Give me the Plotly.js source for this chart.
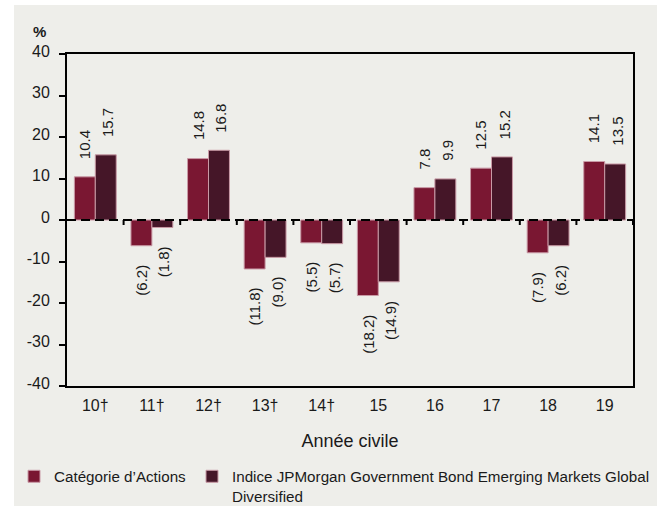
<!DOCTYPE html>
<html>
<head>
<meta charset="utf-8">
<script src="https://cdn.plot.ly/plotly-3.0.1.min.js"></script>
<style>
html,body{margin:0;padding:0;background:#ffffff;}
#chart{position:absolute;left:14px;top:5px;width:643px;height:501px;}
</style>
</head>
<body>
<div id="chart"></div>
<script>
// Data
const categories = ['10†','11†','12†','13†','14†','15','16','17','18','19'];
const seriesNames = ["Catégorie d’Actions", "Indice JPMorgan Government Bond Emerging Markets Global<br>Diversified"];
const fundReturns = [10.4, -6.2, 14.8, -11.8, -5.5, -18.2, 7.8, 12.5, -7.9, 14.1];
const indexReturns = [15.7, -1.8, 16.8, -9.0, -5.7, -14.9, 9.9, 15.2, -6.2, 13.5];
const yTicks = [-40, -30, -20, -10, 0, 10, 20, 30, 40];

const FONT = '"Liberation Sans", Arial, sans-serif';
const TXT = '#1a1a1a';
const colors = ['#7a1732', '#451628'];
const W = 643, H = 501;
const margin = {l: 53, r: 24, t: 49, b: 120};
const bargap = 0.26;

const series = [fundReturns, indexReturns];
const traces = series.map((vals, s) => ({
  type: 'bar',
  x: categories,
  y: vals,
  name: seriesNames[s],
  legend: s === 0 ? 'legend' : 'legend2',
  marker: {color: colors[s], line: {color: '#c99aa6', width: 1}},
  hoverinfo: 'skip'
}));

const plotW = W - margin.l - margin.r;
const catPx = plotW / categories.length;
const barPx = catPx * (1 - bargap) / 2;

const fmt = v => v < 0 ? '(' + Math.abs(v).toFixed(1) + ')' : v.toFixed(1);

const annotations = [];
series.forEach((vals, s) => {
  vals.forEach((v, i) => {
    annotations.push({
      x: i, y: v, xref: 'x', yref: 'y',   // x = category index on the category axis
      text: fmt(v), showarrow: false, textangle: -90,
      xanchor: 'center', yanchor: v < 0 ? 'top' : 'bottom',
      xshift: (s === 0 ? -1 : 1) * barPx / 2 + (s === 0 ? 0 : 2),
      yshift: v < 0 ? -17 : 16,
      font: {family: FONT, size: 15, color: TXT}
    });
  });
});
annotations.push({
  xref: 'paper', yref: 'paper', x: 0, y: 1, xanchor: 'right', yanchor: 'bottom',
  xshift: -19, yshift: 12, text: '<b>%</b>', showarrow: false,
  font: {family: FONT, size: 15, color: TXT}
});

const shapes = [{
  type: 'line', xref: 'paper', yref: 'y', x0: 0, x1: 1, y0: 0, y1: 0,
  line: {color: '#000', width: 2, dash: '9px,5px'}
}];
categories.forEach((c, i) => {
  const xb = (i + 1) / categories.length; // category boundary in paper fraction
  shapes.push({
    type: 'line', xref: 'paper', yref: 'y', ysizemode: 'pixel', yanchor: 0,
    x0: xb, x1: xb, y0: 0, y1: -5,
    line: {color: '#000', width: 2}
  });
});

const legendCommon = {
  orientation: 'h', xref: 'paper', yref: 'container',
  y: 0.092, yanchor: 'top', xanchor: 'left',
  valign: 'top', font: {family: FONT, size: 15.2, color: TXT},
  bgcolor: 'rgba(0,0,0,0)'
};

const layout = {
  width: W, height: H,
  margin: margin,
  paper_bgcolor: '#eeeeea',
  plot_bgcolor: '#eeeeea',
  font: {family: FONT, size: 16, color: TXT},
  barmode: 'group',
  bargap: bargap,
  bargroupgap: 0,
  showlegend: true,
  legend: Object.assign({}, legendCommon, {x: (-7 - margin.l) / plotW}),
  legend2: Object.assign({}, legendCommon, {x: (178 - margin.l) / plotW}),
  xaxis: {
    type: 'category', range: [-0.5, categories.length - 0.5],
    showline: true, linecolor: '#000', linewidth: 2, mirror: true,
    ticks: '', showgrid: false, zeroline: false, tickangle: 0,
    ticklabelstandoff: 4,
    tickfont: {family: FONT, size: 16, color: TXT},
    title: {text: 'Année civile', font: {family: FONT, size: 18, color: TXT}, standoff: 21}
  },
  yaxis: {
    range: [-40, 40], tickvals: yTicks, ticktext: yTicks.map(String),
    showline: true, linecolor: '#000', linewidth: 2, mirror: true,
    ticks: 'outside', ticklen: 6, tickwidth: 2, tickcolor: '#000',
    showgrid: false, zeroline: false,
    ticklabelstandoff: 6, ticklabelshift: -3,
    tickfont: {family: FONT, size: 16, color: TXT}
  },
  annotations: annotations,
  shapes: shapes
};

Plotly.newPlot('chart', traces, layout, {displayModeBar: false, staticPlot: true});
</script>
</body>
</html>
